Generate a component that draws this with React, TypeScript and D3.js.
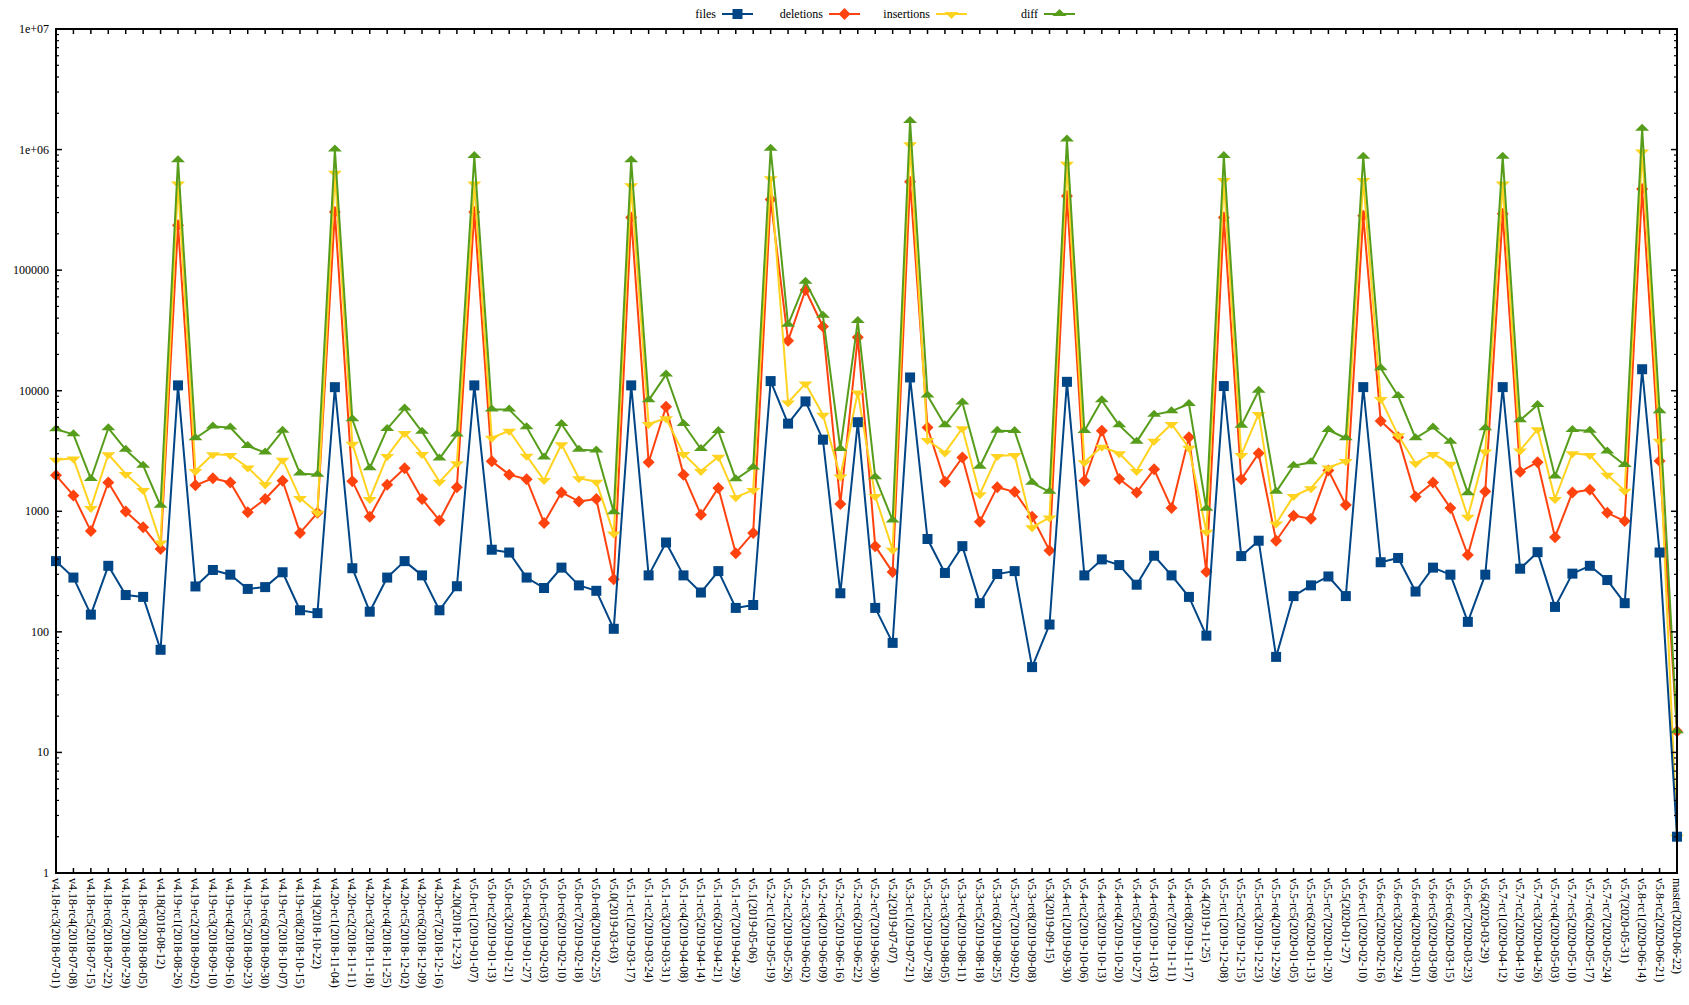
import React from "react";
import * as d3 from "d3";

const categories: string[] = [
  "v4.18-rc3(2018-07-01)", "v4.18-rc4(2018-07-08)", "v4.18-rc5(2018-07-15)", "v4.18-rc6(2018-07-22)",
  "v4.18-rc7(2018-07-29)", "v4.18-rc8(2018-08-05)", "v4.18(2018-08-12)", "v4.19-rc1(2018-08-26)",
  "v4.19-rc2(2018-09-02)", "v4.19-rc3(2018-09-10)", "v4.19-rc4(2018-09-16)", "v4.19-rc5(2018-09-23)",
  "v4.19-rc6(2018-09-30)", "v4.19-rc7(2018-10-07)", "v4.19-rc8(2018-10-15)", "v4.19(2018-10-22)",
  "v4.20-rc1(2018-11-04)", "v4.20-rc2(2018-11-11)", "v4.20-rc3(2018-11-18)", "v4.20-rc4(2018-11-25)",
  "v4.20-rc5(2018-12-02)", "v4.20-rc6(2018-12-09)", "v4.20-rc7(2018-12-16)", "v4.20(2018-12-23)",
  "v5.0-rc1(2019-01-07)", "v5.0-rc2(2019-01-13)", "v5.0-rc3(2019-01-21)", "v5.0-rc4(2019-01-27)",
  "v5.0-rc5(2019-02-03)", "v5.0-rc6(2019-02-10)", "v5.0-rc7(2019-02-18)", "v5.0-rc8(2019-02-25)",
  "v5.0(2019-03-03)", "v5.1-rc1(2019-03-17)", "v5.1-rc2(2019-03-24)", "v5.1-rc3(2019-03-31)",
  "v5.1-rc4(2019-04-08)", "v5.1-rc5(2019-04-14)", "v5.1-rc6(2019-04-21)", "v5.1-rc7(2019-04-29)",
  "v5.1(2019-05-06)", "v5.2-rc1(2019-05-19)", "v5.2-rc2(2019-05-26)", "v5.2-rc3(2019-06-02)",
  "v5.2-rc4(2019-06-09)", "v5.2-rc5(2019-06-16)", "v5.2-rc6(2019-06-22)", "v5.2-rc7(2019-06-30)",
  "v5.2(2019-07-07)", "v5.3-rc1(2019-07-21)", "v5.3-rc2(2019-07-28)", "v5.3-rc3(2019-08-05)",
  "v5.3-rc4(2019-08-11)", "v5.3-rc5(2019-08-18)", "v5.3-rc6(2019-08-25)", "v5.3-rc7(2019-09-02)",
  "v5.3-rc8(2019-09-08)", "v5.3(2019-09-15)", "v5.4-rc1(2019-09-30)", "v5.4-rc2(2019-10-06)",
  "v5.4-rc3(2019-10-13)", "v5.4-rc4(2019-10-20)", "v5.4-rc5(2019-10-27)", "v5.4-rc6(2019-11-03)",
  "v5.4-rc7(2019-11-11)", "v5.4-rc8(2019-11-17)", "v5.4(2019-11-25)", "v5.5-rc1(2019-12-08)",
  "v5.5-rc2(2019-12-15)", "v5.5-rc3(2019-12-23)", "v5.5-rc4(2019-12-29)", "v5.5-rc5(2020-01-05)",
  "v5.5-rc6(2020-01-13)", "v5.5-rc7(2020-01-20)", "v5.5(2020-01-27)", "v5.6-rc1(2020-02-10)",
  "v5.6-rc2(2020-02-16)", "v5.6-rc3(2020-02-24)", "v5.6-rc4(2020-03-01)", "v5.6-rc5(2020-03-09)",
  "v5.6-rc6(2020-03-15)", "v5.6-rc7(2020-03-23)", "v5.6(2020-03-29)", "v5.7-rc1(2020-04-12)",
  "v5.7-rc2(2020-04-19)", "v5.7-rc3(2020-04-26)", "v5.7-rc4(2020-05-03)", "v5.7-rc5(2020-05-10)",
  "v5.7-rc6(2020-05-17)", "v5.7-rc7(2020-05-24)", "v5.7(2020-05-31)", "v5.8-rc1(2020-06-14)",
  "v5.8-rc2(2020-06-21)", "master(2020-06-22)",
];

const files: number[] = [
  386, 282, 139, 353, 202, 195, 71, 11070, 238, 326, 298, 227, 235, 312, 151, 143,
  10700, 337, 147, 282, 386, 294, 151, 239, 11070, 480, 455, 282, 231, 341, 243, 219,
  106, 11070, 294, 551, 294, 212, 319, 158, 167, 12020, 5335, 8150, 3926, 209, 5480, 158,
  81, 12880, 589, 308, 514, 173, 302, 319, 51, 115, 11850, 294, 399, 358, 246, 428,
  294, 195, 93, 10930, 425, 570, 62, 198, 243, 288, 198, 10710, 378, 410, 216, 341,
  298, 121, 298, 10710, 334, 458, 161, 304, 353, 269, 173, 15070, 455, 2,
];

const deletions: number[] = [
  1986, 1355, 685, 1733, 997, 738, 487, 236000, 1641, 1881, 1733, 984, 1265, 1792, 662, 971,
  303000, 1778, 900, 1663, 2275, 1265, 840, 1585, 303000, 2606, 2013, 1841, 801, 1432, 1206, 1265,
  273, 273000, 2553, 7360, 2013, 937, 1563, 449, 662, 385000, 26000, 68500, 34100, 1151, 27800, 514,
  313, 541000, 4955, 1755, 2793, 818, 1585, 1449, 900, 474, 412000, 1792, 4655, 1853, 1432, 2228,
  1067, 4120, 315, 273000, 1841, 3029, 570, 918, 869, 2183, 1127, 283000, 5600, 4120, 1318, 1733,
  1067, 434, 1459, 293000, 2123, 2553, 610, 1432, 1510, 971, 830, 472000, 2607, 15,
];

const insertions: number[] = [
  2680, 2735, 1067, 2970, 2040, 1500, 551, 523000, 2155, 2970, 2931, 2306, 1675, 2680, 1291, 971,
  641000, 3640, 1265, 2870, 4467, 2992, 1755, 2505, 524000, 4064, 4657, 2890, 1815, 3594, 1881, 1755,
  653, 506000, 5296, 5910, 2992, 2155, 2832, 1309, 1500, 579000, 7980, 11460, 6325, 1945, 9660, 1336,
  480, 1107000, 3898, 3069, 4887, 1384, 2870, 2931, 738, 887, 761000, 2553, 3428, 3029, 2155, 3848,
  5296, 3360, 676, 560000, 2931, 6420, 791, 1336, 1553, 2306, 2607, 560000, 8550, 4266, 2505, 2992,
  2473, 900, 3133, 524000, 3200, 4786, 1265, 3029, 2931, 2013, 1479, 966000, 3848, 2,
];

const diff: number[] = [
  4786, 4345, 1853, 4887, 3245, 2388, 1112, 815000, 4036, 5058, 4955, 3476, 3069, 4655, 2055, 2013,
  1000000, 5800, 2275, 4820, 7110, 4560, 2735, 4325, 885000, 6970, 6970, 4989, 2793, 5296, 3245, 3200,
  984, 815000, 8318, 13600, 5296, 3287, 4623, 1841, 2306, 1014000, 35300, 80100, 41900, 3287, 37800, 1918,
  840, 1726000, 9140, 5164, 7980, 2339, 4655, 4623, 1722, 1449, 1211000, 4623, 8318, 5164, 3766, 6325,
  6770, 7760, 1052, 885000, 5130, 10000, 1449, 2388, 2553, 4720, 4036, 873000, 15380, 9040, 4036, 4955,
  3766, 1413, 4887, 873000, 5680, 7600, 1945, 4720, 4655, 3133, 2421, 1486000, 6770, 15,
];

const seriesNames: string[] = ["files", "deletions", "insertions", "diff"];
const seriesColors: string[] = ["#004586", "#ff420e", "#ffd320", "#579d1c"];
const seriesShapes: string[] = ["square", "diamond", "down", "up"];
const drawOrder: number[] = [1, 2, 3, 0];
const yTickValues: number[] = [1, 10, 100, 1000, 10000, 100000, 1000000, 10000000];
const yTickLabels: string[] = ["1", "10", "100", "1000", "10000", "100000", "1e+06", "1e+07"];

const W = 1689;
const H = 1005;
const left = 56;
const right = 1677;
const top = 29;
const bottom = 873;
const FONT = "'Liberation Serif', 'Times New Roman', serif";

function Marker({ shape, x, y, color }: { shape: string; x: number; y: number; color: string }) {
  if (shape === "square") {
    return <rect x={x - 5} y={y - 5} width={10} height={10} fill={color} />;
  }
  if (shape === "diamond") {
    return <path d={`M${x},${y - 6}L${x + 6},${y}L${x},${y + 6}L${x - 6},${y}Z`} fill={color} />;
  }
  if (shape === "down") {
    return <path d={`M${x - 7},${y - 2}L${x + 7},${y - 2}L${x},${y + 5}Z`} fill={color} />;
  }
  return <path d={`M${x - 7},${y + 2}L${x + 7},${y + 2}L${x},${y - 5}Z`} fill={color} />;
}

export default function App() {
  const allSeries = [files, deletions, insertions, diff];
  const x = d3.scalePoint<string>().domain(categories).range([left, right]).padding(0);
  const y = d3.scaleLog().domain([1, 1e7]).range([bottom, top]);
  const line = d3
    .line<number>()
    .x((_, i) => x(categories[i]) as number)
    .y((d) => y(d));

  const minorTicks: number[] = [];
  for (let e = 0; e < 7; e++) {
    for (let m = 2; m <= 9; m++) minorTicks.push(m * Math.pow(10, e));
  }

  const legendEnds = [716, 823, 930, 1038];

  return (
    <svg
      width={W}
      height={H}
      style={{ position: "absolute", left: 0, top: 0, background: "#fff" }}
      fontFamily={FONT}
      fontSize={12}
    >
      <rect x={0} y={0} width={W} height={H} fill="#fff" />
      {/* series */}
      {drawOrder.map((si) => {
        const s = allSeries[si];
        return (
          <g key={seriesNames[si]}>
            <path d={line(s) || ""} fill="none" stroke={seriesColors[si]} strokeWidth={2} strokeLinejoin="round" />
            {s.map((v, i) => (
              <Marker key={i} shape={seriesShapes[si]} x={x(categories[i]) as number} y={y(v)} color={seriesColors[si]} />
            ))}
          </g>
        );
      })}
      {/* frame */}
      <rect x={left} y={top} width={right - left} height={bottom - top} fill="none" stroke="#000" strokeWidth={2} />
      {/* x ticks */}
      {categories.map((c) => {
        const xx = x(c) as number;
        return (
          <g key={c}>
            <line x1={xx} x2={xx} y1={bottom} y2={bottom - 5} stroke="#000" strokeWidth={1.5} />
            <line x1={xx} x2={xx} y1={top} y2={top + 5} stroke="#000" strokeWidth={1.5} />
            <text
              transform={`translate(${xx},${bottom + 5}) rotate(90)`}
              dy="0.33em"
              textAnchor="start"
              fill="#000"
            >
              {c}
            </text>
          </g>
        );
      })}
      {/* y ticks */}
      {yTickValues.map((v, i) => (
        <g key={v}>
          <line x1={left} x2={left + 6} y1={y(v)} y2={y(v)} stroke="#000" strokeWidth={1.5} />
          <line x1={right} x2={right - 6} y1={y(v)} y2={y(v)} stroke="#000" strokeWidth={1.5} />
          <text x={left - 7} y={y(v)} dy="0.33em" textAnchor="end" fill="#000">
            {yTickLabels[i]}
          </text>
        </g>
      ))}
      {minorTicks.map((v) => (
        <g key={"m" + v}>
          <line x1={left} x2={left + 3} y1={y(v)} y2={y(v)} stroke="#000" strokeWidth={1.2} />
          <line x1={right} x2={right - 3} y1={y(v)} y2={y(v)} stroke="#000" strokeWidth={1.2} />
        </g>
      ))}
      {/* legend */}
      {seriesNames.map((n, i) => {
        const ex = legendEnds[i];
        const ly = 14;
        return (
          <g key={"lg" + n}>
            <text x={ex} y={ly} dy="0.33em" textAnchor="end" fill="#000">
              {n}
            </text>
            <line x1={ex + 6} x2={ex + 37} y1={ly} y2={ly} stroke={seriesColors[i]} strokeWidth={2} />
            <Marker shape={seriesShapes[i]} x={ex + 21.5} y={ly} color={seriesColors[i]} />
          </g>
        );
      })}
    </svg>
  );
}
